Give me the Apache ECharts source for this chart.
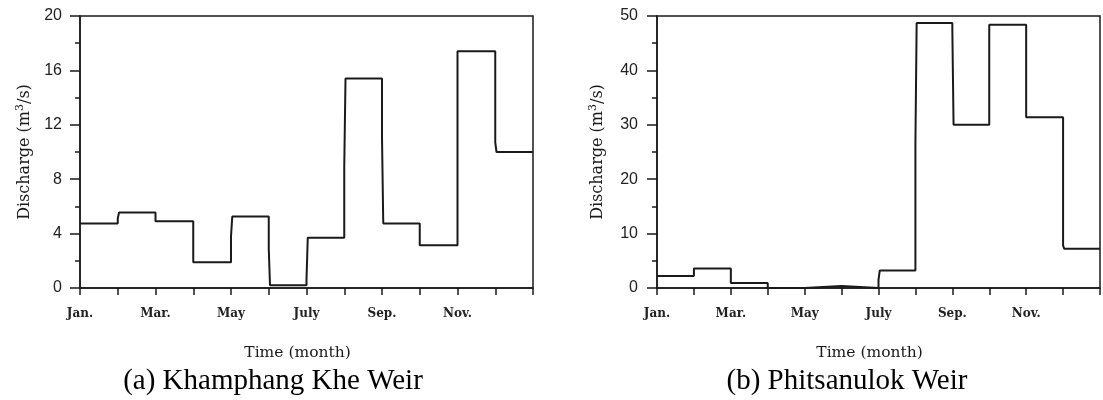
<!DOCTYPE html>
<html>
<head>
    <meta charset="utf-8">
    <title>Discharge</title>
    <script src="https://cdn.jsdelivr.net/npm/echarts@6/dist/echarts.min.js"></script>
</head>
<body style="margin:0; background:#fff;">
<div id="chartmain" style="width:1103px; height:400px;"></div>
<script>
    // month tick labels (values 0..12 on the x axis)
    var monthTicks = ['Jan.', '', 'Mar.', '', 'May', '', 'July', '', 'Sep.', '', 'Nov.', '', ''];

    // (a) Khamphang Khe Weir, monthly discharge and first-day value where it differs
    var khamphangMonthly = [4.75, 5.55, 4.9, 1.9, 5.25, 0.2, 3.7, 15.4, 4.75, 3.15, 17.4, 10.0];
    var khamphangFirstDay = [null, 5.1, null, null, 3.8, 2.9, 0.6, 8.9, 11.1, null, null, 10.7];

    // (b) Phitsanulok Weir
    var phitsanulokMonthly = [2.2, 3.6, 0.9, 0, 0.35, 0, 3.2, 48.7, 30.0, 48.4, 31.4, 7.2];
    var phitsanulokFirstDay = [null, null, null, null, null, null, 1.5, 26.6, 47.6, null, null, 7.8];

    function stepData(monthly, firstDay) {
        var out = [];
        for (var i = 0; i < monthly.length; i++) {
            if (firstDay[i] != null) {
                out.push([i, firstDay[i]]);
                out.push([i + 1 / 30, monthly[i]]);
            } else {
                out.push([i, monthly[i]]);
            }
        }
        out.push([monthly.length, monthly[monthly.length - 1]]);
        return out;
    }

    var ink = '#1a1a1a';
    var serif = 'DejaVu Serif';

    function xAxisOpt(idx) {
        return {
            type: 'value', gridIndex: idx, min: 0, max: 12, interval: 1,
            name: 'Time (month)', nameLocation: 'middle', nameGap: 57,
            nameTextStyle: {fontFamily: serif, fontSize: 15.5, color: ink, padding: [0, 18, 0, 0]},
            axisLine: {lineStyle: {color: ink, width: 1.5}},
            axisTick: {length: 7, lineStyle: {color: ink, width: 1.5}},
            axisLabel: {
                margin: 20, fontFamily: serif, fontSize: 12, fontWeight: 'bold', color: '#222',
                showMaxLabel: true,
                formatter: function (v) { return monthTicks[v] || ''; }
            },
            splitLine: {show: false}
        };
    }

    function yAxisOpt(idx, max, interval, gap, labelMargin) {
        return {
            type: 'value', gridIndex: idx, min: 0, max: max, interval: interval,
            name: 'Discharge (m{sup|3}/s)', nameLocation: 'middle', nameGap: gap,
            nameTextStyle: {
                fontFamily: serif, fontSize: 16, color: ink,
                rich: {sup: {fontFamily: serif, fontSize: 11, color: ink, verticalAlign: 'top', padding: [0, 0, 9, 0]}}
            },
            axisLine: {show: true, lineStyle: {color: ink, width: 1.5}},
            axisTick: {length: 10, lineStyle: {color: ink, width: 1.5}},
            minorTick: {show: true, splitNumber: 2, length: 5, lineStyle: {color: ink, width: 1.5}},
            axisLabel: {margin: labelMargin, fontFamily: 'Liberation Sans', fontSize: 16, color: '#222'},
            splitLine: {show: false}
        };
    }

    var myChart = echarts.init(document.getElementById('chartmain'));
    var option = {
        animation: false,
        title: [
            {text: '(a) Khamphang Khe Weir', left: 268, top: 362, textAlign: 'center',
                textStyle: {fontFamily: 'Liberation Serif', fontSize: 29, fontWeight: 'normal', color: '#000'}},
            {text: '(b) Phitsanulok Weir', left: 842, top: 362, textAlign: 'center',
                textStyle: {fontFamily: 'Liberation Serif', fontSize: 29, fontWeight: 'normal', color: '#000'}}
        ],
        grid: [
            {left: 80, top: 16, width: 453, height: 272, show: true, borderColor: ink, borderWidth: 1.5},
            {left: 657, top: 16, width: 451, height: 272, show: true, borderColor: ink, borderWidth: 1.5}
        ],
        xAxis: [xAxisOpt(0), xAxisOpt(1)],
        yAxis: [yAxisOpt(0, 20, 4, 45, 18), yAxisOpt(1, 50, 10, 49, 19)],
        series: [
            {
                name: 'Khamphang Khe Weir', type: 'line', xAxisIndex: 0, yAxisIndex: 0,
                step: 'end', showSymbol: false,
                lineStyle: {color: ink, width: 2},
                data: stepData(khamphangMonthly, khamphangFirstDay)
            },
            {
                name: 'Phitsanulok Weir', type: 'line', xAxisIndex: 1, yAxisIndex: 1,
                step: 'end', showSymbol: false,
                lineStyle: {color: ink, width: 2},
                data: stepData(phitsanulokMonthly, phitsanulokFirstDay)
            }
        ]
    };
    myChart.setOption(option);
</script>
</body>
</html>
